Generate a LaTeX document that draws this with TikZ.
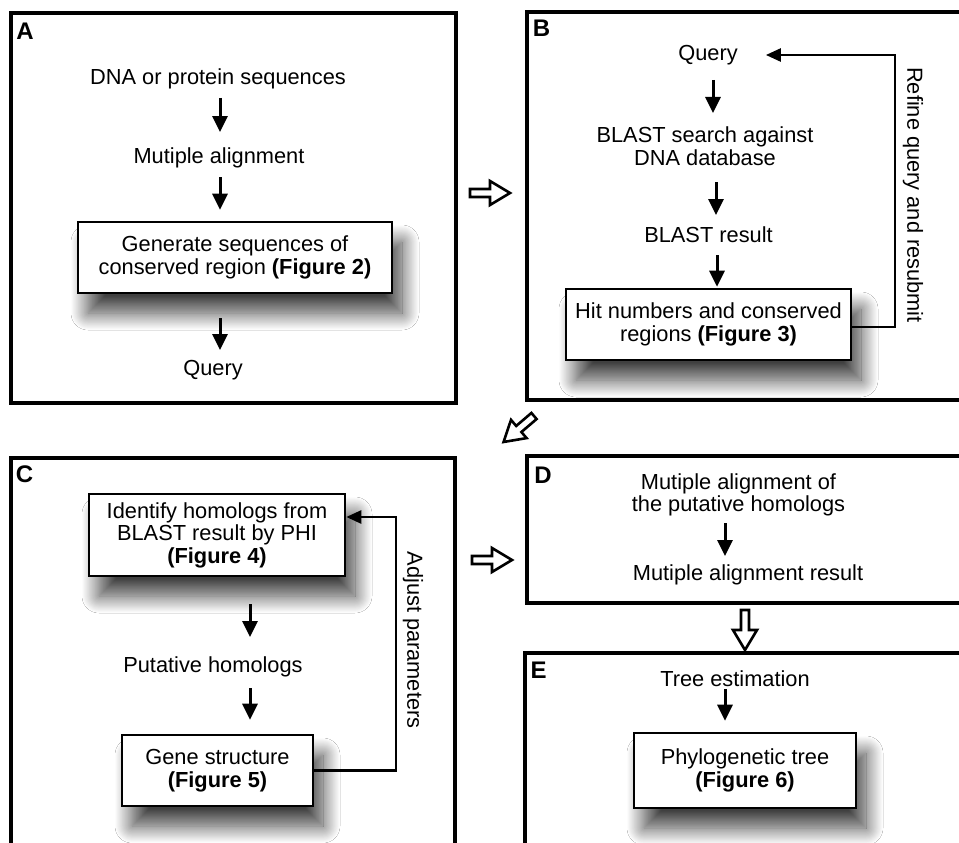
\documentclass[tikz,border=0pt]{standalone}
\usepackage{fontspec}
\setmainfont{Liberation Sans}
\usetikzlibrary{arrows.meta,shadows.blur}
\begin{document}
\begin{tikzpicture}[x=1pt,y=-1pt,
  panel/.style={draw, line width=3.4pt, fill=white},
  lbl/.style={font=\fontsize{21.8}{22.5}\selectfont, inner sep=0pt, align=center},
  tag/.style={font=\fontsize{24}{24}\selectfont\bfseries, inner sep=0pt},
  box/.style={lbl, draw, line width=2.6pt, fill=white,
    blur shadow={shadow xshift=10pt, shadow yshift=-20pt, shadow blur radius=17pt, shadow blur steps=24, shadow opacity=75}},
  arr/.style={line width=3pt, -{Triangle[length=16pt,width=15pt]}},
  fb/.style={line width=2.6pt, -{Triangle[length=15pt,width=13pt]}},
  hollow/.pic={\draw[line width=2.6pt, fill=white, line join=miter]
      (0,-4)--(20,-4)--(20,-12)--(40,0)--(20,12)--(20,4)--(0,4)--cycle;}
]
\useasboundingbox (0,0) rectangle (959,843);
\clip (0,0) rectangle (959,843);
\fill[white] (0,0) rectangle (959,843);

% panels
\draw[panel] (11,13) rectangle (456,403);
\draw[panel] (527,12) rectangle (975,400);
\draw[panel] (11,458) rectangle (455,870);
\draw[panel] (527,456) rectangle (975,603);
\draw[panel] (525,653) rectangle (975,870);

% labels
\node[tag] (labA) at (25,31) {A};
\node[tag] (labB) at (541.5,28.5) {B};
\node[tag] (labC) at (24.5,474.5) {C};
\node[tag] (labD) at (543,475.5) {D};
\node[tag] (labE) at (538.5,670.5) {E};

% panel A
\node[lbl] (dna) at (218,79) {DNA or protein sequences};
\node[lbl] (mulA) at (219,158) {Mutiple alignment};
\node[box, minimum width=314pt, minimum height=71pt] (genA) at (235,257.5)
  {Generate sequences of\\conserved region \textbf{(Figure 2)}};
\node[lbl] (qA) at (213,370) {Query};
\draw[arr] ([shift={(2,19)}]dna.center) -- ([shift={(1,-26)}]mulA.center);
\draw[arr] ([shift={(1,19)}]mulA.center) -- ([shift={(-15,-11)}]genA.north);
\draw[arr] ([shift={(-15,24)}]genA.south) -- ([shift={(7,-20)}]qA.center);

% panel B
\node[lbl] (qB) at (708,55) {Query};
\node[lbl] (blast) at (705,146) {BLAST search against\\DNA database};
\node[lbl] (bres) at (708.5,235) {BLAST result};
\node[box, minimum width=285pt, minimum height=71pt] (hitB) at (708.5,324.5)
  {Hit numbers and conserved\\regions \textbf{(Figure 3)}};
\draw[arr] ([shift={(5,25)}]qB.center) -- ([shift={(8,-33)}]blast.center);
\draw[arr] ([shift={(11,36)}]blast.center) -- ([shift={(7.5,-20)}]bres.center);
\draw[arr] ([shift={(8.5,20)}]bres.center) -- ([shift={(8.5,-1)}]hitB.north);
\coordinate (fbB) at (895,55);
\draw[fb] ([yshift=-2.5pt]hitB.east) -- ([yshift=-2.5pt]hitB.east -| fbB) -- (fbB)
  -- ([xshift=28pt]qB.east);
\node[lbl, rotate=-90] (refine) at (913,195) {Refine query and resubmit};

% panel C
\node[box, minimum width=256pt, minimum height=82pt] (idC) at (217,535)
  {Identify homologs from\\BLAST result by PHI\\\textbf{(Figure 4)}};
\node[lbl] (ph) at (213,667) {Putative homologs};
\node[box, minimum width=191pt, minimum height=71pt] (gsC) at (217.5,770.5)
  {Gene structure\\\textbf{(Figure 5)}};
\draw[arr] ([shift={(33,27)}]idC.south) -- ([shift={(37,-30)}]ph.center);
\draw[arr] ([shift={(37,21)}]ph.center) -- ([shift={(32.5,-14)}]gsC.north);
\coordinate (fbC) at (396,517);
\draw[fb] (gsC.east) -- (gsC.east -| fbC) -- (fbC) -- (fbC -| idC.east);
\node[lbl, rotate=-90] (adjust) at (413,640) {Adjust parameters};

% panel D
\node[lbl] (mD) at (738.5,495) {Mutiple alignment of\\the putative homologs};
\node[lbl] (mrD) at (748,575) {Mutiple alignment result};
\draw[arr] ([shift={(-13.5,28)}]mD.center) -- ([shift={(-23,-19)}]mrD.center);

% panel E
\node[lbl] (teE) at (735,679) {Tree estimation};
\node[box, minimum width=222pt, minimum height=75pt] (ptE) at (745,770.5)
  {Phylogenetic tree\\\textbf{(Figure 6)}};
\draw[arr] ([shift={(-10,10)}]teE.center) -- ([shift={(-20,-11)}]ptE.north);

% hollow arrows between panels
\pic at (470,193) {hollow};
\pic at (472,560) {hollow};
\pic[rotate=-90] at (745,610) {hollow};
\pic[rotate=220.5] at (534,416) {hollow};
\end{tikzpicture}
\end{document}
